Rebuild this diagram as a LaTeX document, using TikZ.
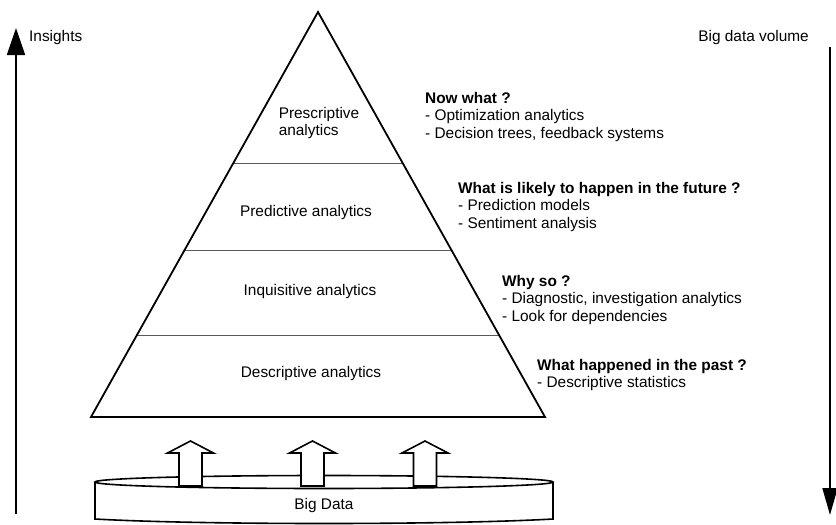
\documentclass[tikz,border=0pt]{standalone}
\usepackage{fontspec}
\setmainfont{Liberation Sans}
\usetikzlibrary{arrows.meta,calc}
\begin{document}
\begin{tikzpicture}[x=1pt,y=-1pt,
  txt/.style={font=\fontsize{15.4}{17.5}\selectfont, inner sep=0pt},
  note/.style={txt, align=left, anchor=north west},
  edge/.style={line width=1.8pt, line join=miter},
  tier/.style={line width=0.8pt, draw=black!65},
  axis/.style={line width=1.8pt},
  upblock/.style={line width=1.6pt, fill=white, line join=miter},
  drum/.style={line width=1.6pt},
  uparrow/.pic={\draw[upblock] (-11.5,0) -- (-11.5,-33) -- (-23,-33) -- (0,-45)
                 -- (23,-33) -- (11.5,-33) -- (11.5,0) -- cycle;}]
\useasboundingbox (0,0) rectangle (836,525);

% side axes
\coordinate (ins-start) at (16,514);
\coordinate (ins-end) at (16,28);
\draw[axis,-{Triangle[length=27pt,width=18pt]}] (ins-start) -- (ins-end);
\node[txt, anchor=west] (insights) at (29,38) {Insights};

\coordinate (vol-start) at (830,47);
\coordinate (vol-end) at (830,515);
\draw[axis,-{Triangle[length=27pt,width=15pt]}] (vol-start) -- (vol-end);
\node[txt, anchor=east] (volume) at (809,38) {Big data volume};

% pyramid
\coordinate (apex) at (318,12);
\coordinate (bl) at (91,417);
\coordinate (br) at (545,417);
\foreach \t/\n in {0.3728/t1, 0.5877/t2, 0.7975/t3}{
  \draw[tier] ($(apex)!\t!(bl)$) coordinate (\n l) -- ($(apex)!\t!(br)$) coordinate (\n r);
}
\draw[edge] (apex) -- (bl) -- (br) -- cycle;

\node[txt, align=left] (prescriptive) at (319,123) {Prescriptive\\analytics};
\node[txt] (predictive) at (306,213) {Predictive analytics};
\node[txt] (inquisitive) at (310,292) {Inquisitive analytics};
\node[txt] (descriptive) at (311,374) {Descriptive analytics};

% questions per level
\node[note] (q1) at (425,92) {\textbf{Now what ?}\\- Optimization analytics\\- Decision trees, feedback systems};
\node[note] (q2) at (458,182) {\textbf{What is likely to happen in the future ?}\\- Prediction models\\- Sentiment analysis};
\node[note] (q3) at (502,275) {\textbf{Why so ?}\\- Diagnostic, investigation analytics\\- Look for dependencies};
\node[note] (q4) at (537,359) {\textbf{What happened in the past ?}\\- Descriptive statistics};

% data store
\draw[drum] (95,482) -- (95,519) .. controls (200,525) and (448,525) .. (553,519) -- (553,482);
\draw[drum] (324,482) ellipse [x radius=229, y radius=6.5];
\node[txt] (bigdata) at (324,506) {Big Data};

\coordinate (f1) at (190.5,486);
\coordinate (f2) at (312.5,486);
\coordinate (f3) at (425,486);
\foreach \f in {f1,f2,f3} \pic at (\f) {uparrow};
\end{tikzpicture}
\end{document}
